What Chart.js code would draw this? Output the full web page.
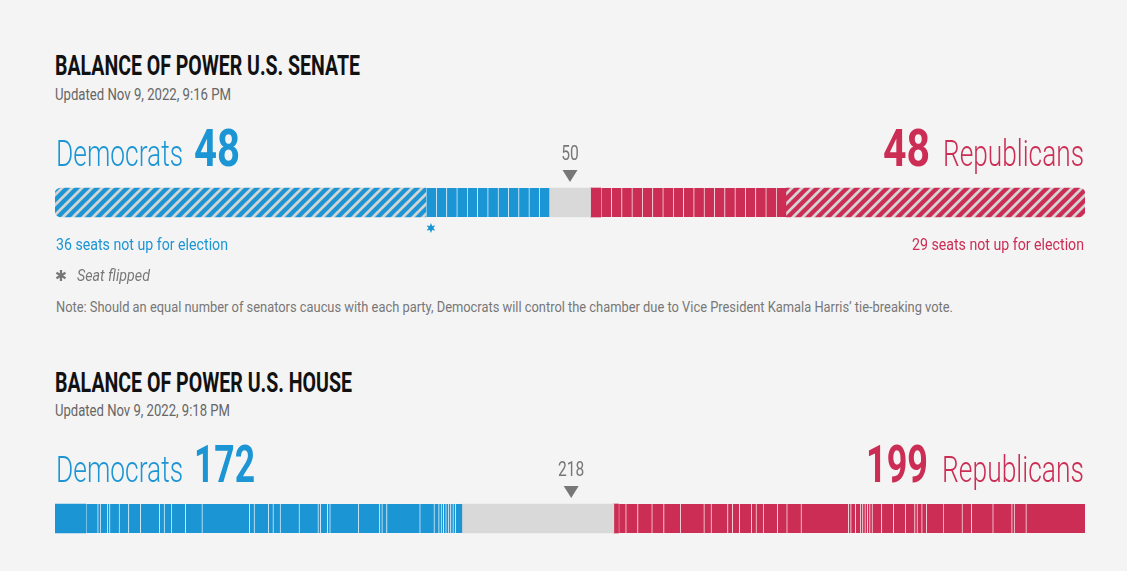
<!DOCTYPE html>
<html>
<head>
<meta charset="utf-8">
<script src="https://cdn.jsdelivr.net/npm/chart.js@4.4.0/dist/chart.umd.min.js"></script>
<style>
  html, body { margin: 0; padding: 0; background: #f4f4f4; }
  body { width: 1127px; height: 571px; position: relative; overflow: hidden; font-family: Roboto, "Liberation Sans", sans-serif; }
  .t { position: absolute; white-space: nowrap; line-height: 1; transform-origin: 0 0; }
  .b { display: inline-block; width: 0; height: 0; }
  canvas { position: absolute; left: 55px; }
</style>
</head>
<body>
<canvas id="senate" width="1030" height="100" style="top:140px"></canvas>
<canvas id="house" width="1030" height="100" style="top:456px"></canvas>
<script>
const BLUE = '#1b95d4';
const RED = '#cc2d55';
const UNDECIDED = '#d9d9d9';
const HATCH_BG = '#d3d3d3';
const SEP = 'rgba(255,255,255,0.9)';

// Senate seats, left to right
const senateDemNotUp = 36;
const senateDemWon = 12;
const senateUndecided = 4;
const senateRepWon = 19;
const senateRepNotUp = 29;
const senateMajority = 50;
const senateFlipped = [36];   // seat index (0-based) under the star

// House seats, grouped as drawn (white line between groups)
const houseDemGroups = [13, 5, 1, 3, 1, 4, 4, 5, 8, 2, 3, 6, 7, 20, 2, 6, 2, 3, 8, 8, 1, 3, 1, 12, 9, 1, 2, 14, 6, 2, 1, 1, 1, 1, 1, 1, 1, 3];
const houseUndecided = 64;
const houseRepGroups = [2, 3, 5, 6, 5, 7, 10, 3, 7, 2, 3, 5, 2, 3, 6, 4, 6, 20, 1, 2, 2, 1, 1, 1, 1, 1, 4, 5, 5, 4, 1, 2, 2, 7, 8, 4, 9, 8, 1, 5, 25];
const houseMajority = 218;

const sum = a => a.reduce((s, v) => s + v, 0);
const senDem = senateDemNotUp + senateDemWon;
const senRep = senateRepNotUp + senateRepWon;
const houseDem = sum(houseDemGroups);
const houseRep = sum(houseRepGroups);

function hatch(color) {
  const c = document.createElement('canvas');
  c.width = c.height = 10;
  const g = c.getContext('2d');
  g.fillStyle = HATCH_BG; g.fillRect(0, 0, 10, 10);
  g.strokeStyle = color; g.lineWidth = 4.4;
  g.beginPath();
  g.moveTo(-5, 5); g.lineTo(5, -5);
  g.moveTo(0, 10); g.lineTo(10, 0);
  g.moveTo(5, 15); g.lineTo(15, 5);
  g.stroke();
  return g.createPattern(c, 'repeat');
}

function seg(value, color, sep, radius) {
  return {
    data: [value], backgroundColor: color, borderColor: SEP,
    borderWidth: { left: sep ? 1 : 0, right: 0, top: 0, bottom: 0 },
    borderSkipped: false, borderRadius: radius || 0,
    barThickness: 29, stack: 's',
  };
}

function markerPlugin(majority, flipped) {
  return {
    id: 'marker',
    afterDatasetsDraw(chart) {
      const ctx = chart.ctx, x = chart.scales.x.getPixelForValue(majority);
      ctx.save();
      ctx.fillStyle = '#777';
      ctx.font = '20px Roboto';
      ctx.textAlign = 'center';
      ctx.textBaseline = 'alphabetic';
      ctx.translate(x, 20); ctx.scale(0.78, 1);
      ctx.fillText(String(majority), 0, 0);
      ctx.restore();
      ctx.save();
      ctx.fillStyle = '#777';
      ctx.beginPath();
      ctx.moveTo(x - 7.5, 30); ctx.lineTo(x + 7.5, 30); ctx.lineTo(x, 42); ctx.closePath();
      ctx.fill();
      ctx.fillStyle = BLUE;
      flipped.forEach(s => {
        const sx = chart.scales.x.getPixelForValue(s + 0.5), sy = 88;
        ctx.beginPath();
        for (let i = 0; i < 12; i++) {
          const r = i % 2 ? 2.4 : 5, a = -Math.PI / 2 + i * Math.PI / 6;
          ctx.lineTo(sx + r * Math.cos(a), sy + r * Math.sin(a));
        }
        ctx.closePath(); ctx.fill();
      });
      ctx.restore();
    },
  };
}

function drawBar(id, datasets, total, majority, flipped) {
  return new Chart(document.getElementById(id), {
    type: 'bar',
    data: { labels: [''], datasets },
    options: {
      indexAxis: 'y', responsive: false, animation: false,
      layout: { padding: { top: 44, bottom: 19, left: 0, right: 0 } },
      plugins: { legend: { display: false }, tooltip: { enabled: false } },
      scales: {
        x: { stacked: true, min: 0, max: total, display: false },
        y: { stacked: true, display: false },
      },
    },
    plugins: [markerPlugin(majority, flipped)],
  });
}

// Senate
const senSets = [seg(senateDemNotUp, hatch(BLUE), false, { topLeft: 6, bottomLeft: 6, topRight: 0, bottomRight: 0 })];
for (let i = 0; i < senateDemWon; i++) senSets.push(seg(1, BLUE, true));
senSets.push(seg(senateUndecided, UNDECIDED, false));
for (let i = 0; i < senateRepWon; i++) senSets.push(seg(1, RED, i > 0));
senSets.push(seg(senateRepNotUp, hatch(RED), false, { topLeft: 0, bottomLeft: 0, topRight: 6, bottomRight: 6 }));
drawBar('senate', senSets, senDem + senateUndecided + senRep, senateMajority, senateFlipped);

// House
const houseSets = [];
houseDemGroups.forEach((g, i) => houseSets.push(seg(g, BLUE, i > 0)));
houseSets.push(seg(houseUndecided, UNDECIDED, false));
houseRepGroups.forEach((g, i) => houseSets.push(seg(g, RED, i > 0)));
drawBar('house', houseSets, houseDem + houseUndecided + houseRep, houseMajority, []);

// Text: [text, left, baseline, width, size, weight, color, style, family]
const texts = [
  ['BALANCE OF POWER U.S. SENATE', 55, 75, 305, 28, 700, '#111'],
  ['Updated Nov 9, 2022, 9:16 PM', 55, 100, 176, 16, 400, '#666'],
  ['Democrats', 56, 166, 127, 36, 300, BLUE],
  [String(senDem), 194, 166, 46, 52, 700, BLUE],
  [String(senRep), 883, 166, 47, 52, 700, RED],
  ['Republicans', 943, 166, 141, 36, 300, RED],
  [senateDemNotUp + ' seats not up for election', 56, 250, 172, 17, 400, BLUE],
  [senateRepNotUp + ' seats not up for election', 912, 250, 172, 17, 400, RED],
  ['\u2731', 55, 281, 12, 15, 400, '#777', 'normal', '"DejaVu Sans"'],
  ['Seat flipped', 77, 281, 73, 17, 400, '#777', 'italic'],
  ['Note: Should an equal number of senators caucus with each party, Democrats will control the chamber due to Vice President Kamala Harris\u2019 tie-breaking vote.', 56, 312, 897, 15, 400, '#777'],
  ['BALANCE OF POWER U.S. HOUSE', 55, 392, 297, 28, 700, '#111'],
  ['Updated Nov 9, 2022, 9:18 PM', 55, 416, 175, 16, 400, '#666'],
  ['Democrats', 56, 482, 127, 36, 300, BLUE],
  [String(houseDem), 194, 482, 61, 52, 700, BLUE],
  [String(houseRep), 866, 482, 62, 52, 700, RED],
  ['Republicans', 942, 482, 142, 36, 300, RED],
];

texts.forEach(([txt, x, base, w, fs, fw, color, style, fam]) => {
  const d = document.createElement('div');
  d.className = 't';
  d.style.cssText = `left:${x}px;font-size:${fs}px;font-weight:${fw};color:${color};font-style:${style || 'normal'};` + (fam ? `font-family:${fam};` : '');
  const s = document.createElement('span');
  s.textContent = txt;
  const b = document.createElement('span');
  b.className = 'b';
  d.appendChild(s); d.appendChild(b);
  document.body.appendChild(d);
  d.style.top = (base - b.offsetTop) + 'px';
  const nat = s.getBoundingClientRect().width;
  d.style.transform = `scaleX(${w / nat})`;
});
</script>
</body>
</html>
